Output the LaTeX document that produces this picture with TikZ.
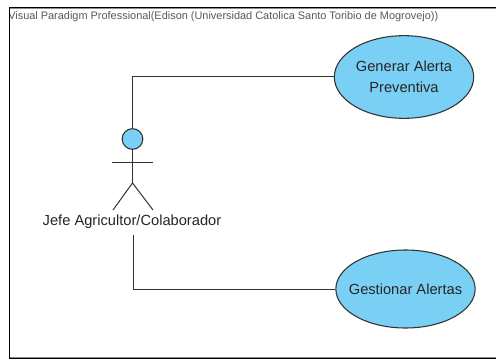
\documentclass[tikz,border=0pt]{standalone}
\usepackage{fontspec}
\setmainfont{Liberation Sans}
\usetikzlibrary{shapes.geometric}
\usetikzlibrary{calc}
\definecolor{ucblue}{RGB}{122,207,245}
\definecolor{ucline}{RGB}{50,50,50}
\tikzset{x=0.75pt,y=-0.75pt}
\tikzset{
    usecase/.style={ellipse,draw=ucline,fill=ucblue,thick,inner xsep=-10pt,inner ysep=0pt,align=center,font=\fontsize{11}{15.5}\selectfont,text=black!85},
    stick/.style={draw=ucline,line width=0.75pt},
    assoc/.style={draw=ucline,line width=0.75pt},
}
\begin{document}
\begin{tikzpicture}
        \useasboundingbox (0,0) rectangle (496,360);
        \fill[white] (0,0) rectangle (496,360);
        \begin{scope}
            \clip (9.5,8) rectangle (496,30);
            \node[anchor=west,inner sep=0pt,text=black!65,font=\fontsize{8.2}{10}\selectfont] (title) at (8,16.5) {Visual Paradigm Professional(Edison (Universidad Catolica Santo Toribio de Mogrovejo))};
        \end{scope}
        \draw[black!45,line width=0.6pt] (10,357) -- (496,357);
        \draw[black!45,line width=0.6pt] (10,8.7) -- (496,8.7);
        \draw[black,line width=0.8pt] (9.5,358.5) -- (9.5,7.5) -- (496,7.5);
        \draw[black,line width=0.8pt] (9.5,358.5) -- (496,358.5);
        % casos de uso
        \node[usecase,minimum width=104.5pt,minimum height=62pt] (generar) at (404,77) {Generar Alerta\\Preventiva};
        \node[usecase,minimum width=104.5pt,minimum height=58.5pt] (gestionar) at (405.5,289) {Gestionar Alertas};
        % actor
        \node[circle,draw=ucline,fill=ucblue,thick,minimum size=15.5pt,inner sep=0pt] (head) at (132.5,139) {};
        \coordinate (hip) at (132.5,183);
        \draw[stick] (head.south) -- (hip);
        \draw[stick] (112,162) -- (153,162);
        \draw[stick] (113,210) -- (hip) -- (153,210);
        \node[inner sep=0pt,text=black!85,font=\fontsize{11}{13}\selectfont] (actor) at (132,221.5) {Jefe Agricultor/Colaborador};
        \coordinate (actorfoot) at (133,235);
        % asociaciones
        \draw[assoc] (head.north) |- (generar.west);
        \draw[assoc] (actorfoot) |- (gestionar.west);
    \end{tikzpicture}
\end{document}
